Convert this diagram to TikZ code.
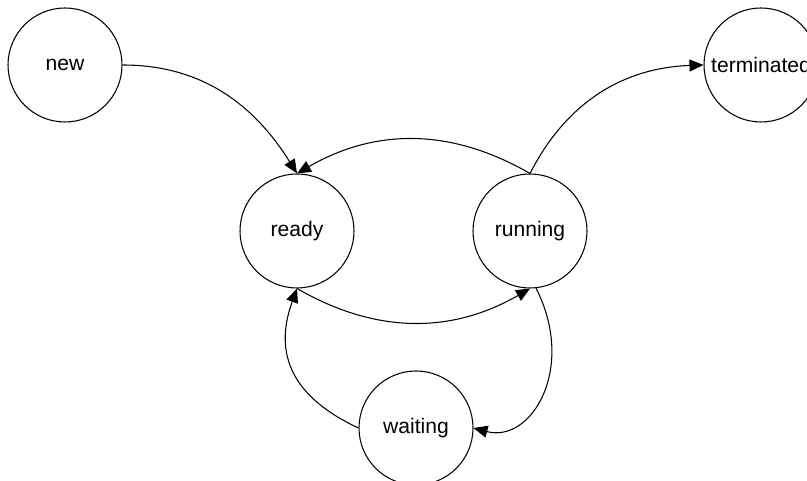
\documentclass[tikz,border=0pt]{standalone}
\usepackage{fontspec}
\setmainfont{Liberation Sans}
\usetikzlibrary{arrows.meta}

\begin{document}
\begin{tikzpicture}[
	state/.style={ circle, draw, line width=0.6pt, inner sep=0pt, minimum size=2.28cm, font=\fontsize{12}{14}\selectfont },
	trans/.style={ line width=0.6pt, -{Triangle[length=0.28cm,width=0.24cm]} }
]
\useasboundingbox (0,0) rectangle (16.14,9.62);

\node at (1.3,8.32) (snew) [state] {new};
\node at (15.22,8.32) (sterm) [state] {terminated};

\node at (5.94,5.0) (sready) [state] {ready};
\node at (10.6,5.0) (srun) [state] {running};

\node at (8.32,1.06) (swait) [state] {waiting};

\draw[trans] (snew.east) to[out=0,in=122] (sready.north);
\draw[trans] (srun.north) to[out=150,in=30] (sready.north);
\draw[trans] (srun.north) to[out=63,in=182] (sterm.west);
\draw[trans] (sready.south) to[out=-30,in=210] (srun.south);
\draw[trans] (srun.-84) to[out=-63,in=-15,out looseness=1.5,in looseness=1] (swait.east);
\draw[trans] (swait.west) to[out=155,in=-110,looseness=1.2] (sready.south);

\end{tikzpicture}
\end{document}
